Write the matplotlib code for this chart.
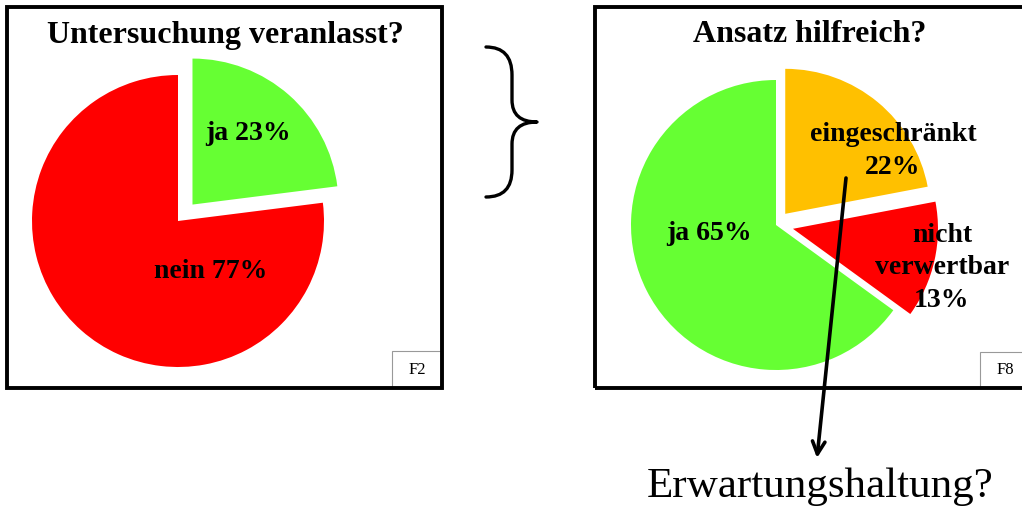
import matplotlib
matplotlib.use("Agg")
import matplotlib.pyplot as plt
from matplotlib.patches import Rectangle, PathPatch
from matplotlib.path import Path

# ---- data ----
left_title = "Untersuchung veranlasst?"
left_labels = ["ja 23%", "nein 77%"]
left_values = [23, 77]
left_colors = ["#66FF33", "#FF0000"]

right_title = "Ansatz hilfreich?"
right_labels = ["eingeschränkt\n22%", "nicht\nverwertbar\n13%", "ja 65%"]
right_values = [22, 13, 65]
right_colors = ["#FFC000", "#FF0000", "#66FF33"]

W, H = 1022, 507
fig = plt.figure(figsize=(W / 100, H / 100), dpi=100)
ax = fig.add_axes([0, 0, 1, 1])


def Y(y):
    return H - y


serif = ["Liberation Serif", "DejaVu Serif"]
LBL = 20

# panel boxes
for (x0, y0, x1, y1) in [(7, 7, 442, 388), (595, 7, 1030, 388)]:
    ax.add_patch(Rectangle((x0, Y(y1)), x1 - x0, y1 - y0, fill=False,
                           edgecolor="black", lw=2.8, zorder=5))

# small id boxes
for (x0, y0, x1, y1, tx, txt) in [(392, 351, 441, 388, 417, "F2"),
                                  (980, 352, 1030, 388, 1005, "F8")]:
    ax.add_patch(Rectangle((x0, Y(y1)), x1 - x0, y1 - y0, fill=False,
                           edgecolor="#999999", lw=0.8, zorder=4))
    ax.text(tx, Y((y0 + y1) / 2), txt,
            ha="center", va="center", fontsize=12, family=serif, zorder=6)

# left pie
r1 = 146
ax.pie(left_values, colors=left_colors, startangle=90, counterclock=False,
       radius=r1, center=(178, Y(221)), explode=[0.15 * r1, 0],
       wedgeprops=dict(linewidth=0), frame=True)
ax.text(248, Y(133), left_labels[0], ha="center", va="center",
        fontsize=LBL, fontweight="bold", family=serif)
ax.text(211, Y(271), left_labels[1], ha="center", va="center",
        fontsize=LBL, fontweight="bold", family=serif)
ax.text(225, Y(35), left_title, ha="center", va="center",
        fontsize=23, fontweight="bold", family=serif)

# right pie
r2 = 145
ax.pie(right_values, colors=right_colors, startangle=90, counterclock=False,
       radius=r2, center=(776, Y(225)), explode=[0.1 * r2, 0.12 * r2, 0],
       wedgeprops=dict(linewidth=0), frame=True)
ax.text(893, Y(151), right_labels[0], ha="center", va="center",
        fontsize=LBL, fontweight="bold", family=serif, linespacing=1.45)
ax.text(942, Y(268), right_labels[1], ha="center", va="center",
        fontsize=LBL, fontweight="bold", family=serif, linespacing=1.42)
ax.text(709, Y(234), right_labels[2], ha="center", va="center",
        fontsize=LBL, fontweight="bold", family=serif)
ax.text(810, Y(35), right_title, ha="center", va="center",
        fontsize=23, fontweight="bold", family=serif)

ax.set_xlim(0, W)
ax.set_ylim(0, H)
ax.axis("off")

# brace
verts = [(486, Y(47)), (512, Y(47)), (512, Y(75)),
         (512, Y(100)),
         (512, Y(122)), (537, Y(122)),
         (512, Y(122)), (512, Y(144)),
         (512, Y(170)),
         (512, Y(197)), (486, Y(197))]
codes = [Path.MOVETO, Path.CURVE3, Path.CURVE3,
         Path.LINETO,
         Path.CURVE3, Path.CURVE3,
         Path.CURVE3, Path.CURVE3,
         Path.LINETO,
         Path.CURVE3, Path.CURVE3]
ax.add_patch(PathPatch(Path(verts, codes), fill=False, lw=2.4,
                       edgecolor="black", capstyle="round", joinstyle="round"))

# arrow
ax.annotate("", xy=(817, Y(458)), xytext=(846, Y(178)),
            arrowprops=dict(arrowstyle="->,head_length=0.9,head_width=0.45",
                            lw=2.6, color="black", shrinkA=0, shrinkB=0))
ax.text(820, Y(487), "Erwartungshaltung?", ha="center", va="center",
        fontsize=31, family=serif)

fig.savefig("out.png", dpi=100)
